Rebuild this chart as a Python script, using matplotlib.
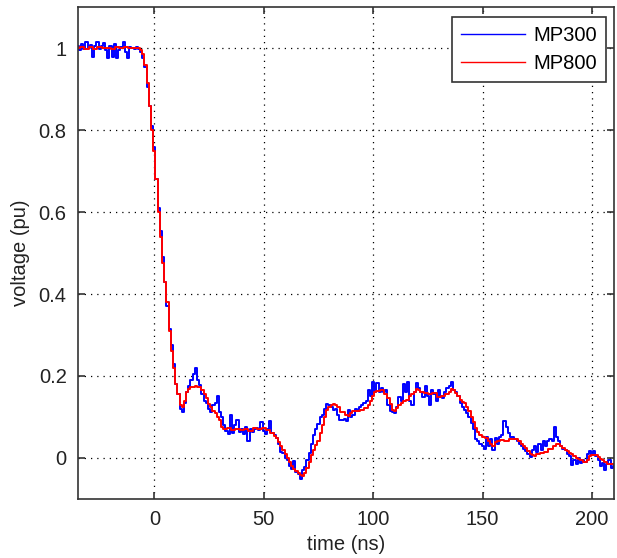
import matplotlib
matplotlib.use('Agg')
import matplotlib.pyplot as plt

# MP300 probe (1 ns samples)
t_mp300 = list(range(-35, 211))
v_mp300 = [
    1.005, 0.995, 1.010, 0.998, 1.015, 1.000, 1.008, 0.978, 1.005, 1.015,   # -35..-26
    0.998, 1.006, 1.012, 0.995, 0.975, 1.005, 0.978, 1.010, 0.976, 0.995,   # -25..-16
    1.004, 1.016, 0.990, 0.976, 1.003, 1.000, 0.998, 1.002, 0.997, 0.990,   # -15..-6
    0.975, 0.955, 0.905, 0.860, 0.810, 0.760, 0.680, 0.610, 0.555, 0.490,   # -5..4
    0.430, 0.370, 0.315, 0.275, 0.230, 0.180, 0.155, 0.120, 0.112, 0.135,   # 5..14
    0.160, 0.175, 0.190, 0.205, 0.220, 0.190, 0.178, 0.155, 0.140, 0.135,   # 15..24
    0.120, 0.112, 0.128, 0.135, 0.150, 0.112, 0.100, 0.080, 0.065, 0.058,   # 25..34
    0.105, 0.060, 0.080, 0.092, 0.062, 0.070, 0.058, 0.075, 0.042, 0.070,   # 35..44
    0.062, 0.070, 0.072, 0.068, 0.088, 0.065, 0.058, 0.070, 0.090, 0.060,   # 45..54
    0.055, 0.048, 0.035, 0.015, 0.012, 0.000, -0.005, -0.020, -0.028, -0.008,  # 55..64
    -0.035, -0.040, -0.052, -0.030, -0.022, -0.005, 0.012, 0.035, 0.055, 0.070,  # 65..74
    0.082, 0.100, 0.105, 0.120, 0.132, 0.128, 0.125, 0.118, 0.120, 0.105,   # 75..84
    0.092, 0.092, 0.095, 0.090, 0.118, 0.100, 0.105, 0.120, 0.115, 0.125,   # 85..94
    0.130, 0.135, 0.140, 0.165, 0.150, 0.185, 0.160, 0.182, 0.160, 0.170,   # 95..104
    0.160, 0.165, 0.130, 0.115, 0.112, 0.110, 0.125, 0.148, 0.140, 0.180,   # 105..114
    0.160, 0.185, 0.140, 0.128, 0.160, 0.184, 0.170, 0.160, 0.148, 0.175,   # 115..124
    0.150, 0.128, 0.165, 0.155, 0.140, 0.165, 0.150, 0.145, 0.160, 0.170,   # 125..134
    0.175, 0.185, 0.165, 0.160, 0.150, 0.135, 0.123, 0.118, 0.110, 0.100,   # 135..144
    0.085, 0.070, 0.045, 0.040, 0.035, 0.030, 0.022, 0.050, 0.030, 0.045,   # 145..154
    0.020, 0.048, 0.035, 0.050, 0.055, 0.090, 0.075, 0.060, 0.050, 0.052,   # 155..164
    0.045, 0.040, 0.035, 0.030, 0.022, 0.018, 0.010, 0.002, 0.020, 0.030,   # 165..174
    0.015, 0.035, 0.020, 0.040, 0.030, 0.042, 0.045, 0.040, 0.075, 0.050,   # 175..184
    0.040, 0.030, 0.022, 0.020, 0.010, 0.005, -0.018, -0.005, -0.015, 0.000,  # 185..194
    -0.012, -0.005, -0.010, 0.010, 0.018, 0.008, 0.018, 0.005, -0.005, -0.020,  # 195..204
    -0.012, -0.030, -0.015, -0.005, -0.025, -0.020,                          # 205..210
]

# MP800 probe
t_mp800 = [
    -35, -33, -31, -29, -27, -25, -23, -21, -19, -17, -15, -13, -11, -9, -7,
    -6, -5, -4, -3, -2, -1, 0, 1, 2, 3, 4, 5, 6, 7, 8, 9, 10, 11, 12, 13, 14,
    15, 16, 17, 18, 19, 20, 21, 22, 23, 24, 25, 26, 27, 28, 29, 30, 31, 32,
    34, 36, 38, 40, 42, 44, 46, 48, 50, 52, 54, 55, 56, 57, 58, 59, 60, 61,
    62, 63, 64, 65, 66, 67, 68, 69, 70, 71, 72, 73, 74, 75, 76, 77, 78, 79,
    80, 81, 82, 83, 84, 86, 88, 89, 90, 91, 93, 95, 97, 98, 99, 100, 101, 102,
    104, 106, 107, 108, 109, 110, 111, 112, 113, 114, 116, 117, 118, 119, 120,
    121, 122, 124, 126, 128, 130, 132, 134, 135, 136, 137, 138, 139, 140, 141,
    142, 143, 144, 145, 146, 147, 148, 149, 150, 152, 153, 154, 155, 156, 157,
    159, 161, 163, 165, 167, 168, 169, 170, 171, 172, 173, 174, 175, 177, 179,
    181, 183, 184, 185, 186, 187, 188, 189, 190, 191, 192, 193, 194, 195, 197,
    198, 199, 200, 202, 203, 204, 205, 206, 208, 210,
]
v_mp800 = [
    1.000, 1.003, 0.998, 1.002, 0.999, 1.003, 1.000, 1.001, 0.998, 1.002, 1.000, 1.003, 1.000, 1.000, 1.000,
    0.995, 0.985, 0.960, 0.915, 0.860, 0.800, 0.750, 0.680, 0.600, 0.540, 0.475, 0.430, 0.380, 0.310, 0.260, 0.220, 0.180, 0.155, 0.130, 0.123, 0.140,
    0.160, 0.168, 0.172, 0.172, 0.175, 0.174, 0.172, 0.165, 0.156, 0.145, 0.132, 0.125, 0.115, 0.110, 0.100, 0.092, 0.075, 0.070,
    0.072, 0.068, 0.070, 0.068, 0.070, 0.066, 0.074, 0.070, 0.072, 0.068, 0.060, 0.054, 0.048, 0.038, 0.030, 0.020, 0.010, 0.000,
    -0.010, -0.020, -0.026, -0.032, -0.038, -0.042, -0.043, -0.036, -0.025, -0.010, 0.008, 0.020, 0.032, 0.042, 0.060, 0.080, 0.100, 0.118,
    0.125, 0.130, 0.132, 0.128, 0.124, 0.112, 0.104, 0.103, 0.110, 0.115, 0.114, 0.118, 0.122, 0.128, 0.138, 0.152, 0.162, 0.164,
    0.165, 0.157, 0.145, 0.132, 0.118, 0.115, 0.122, 0.128, 0.135, 0.140, 0.142, 0.150, 0.156, 0.162, 0.168,
    0.165, 0.160, 0.158, 0.156, 0.158, 0.148, 0.150, 0.155, 0.160, 0.168, 0.165, 0.158, 0.150, 0.142, 0.136,
    0.133, 0.125, 0.115, 0.100, 0.088, 0.074, 0.062, 0.056, 0.052, 0.048, 0.042, 0.035, 0.030, 0.038, 0.042,
    0.044, 0.042, 0.046, 0.045, 0.040, 0.035, 0.030, 0.024, 0.018, 0.010, 0.006, 0.005, 0.010, 0.012, 0.014,
    0.022, 0.030, 0.035, 0.034, 0.030, 0.025, 0.020, 0.018, 0.012, 0.010, 0.005, 0.000, -0.002, -0.005, -0.010,
    -0.004, 0.005, 0.006, 0.006, 0.002, -0.002, -0.006, -0.010, -0.014, -0.014,
]

xticks = [0, 50, 100, 150, 200]
yticks = [0, 0.2, 0.4, 0.6, 0.8, 1]
ytick_labels = ['0', '0.2', '0.4', '0.6', '0.8', '1']

plt.rcParams['font.family'] = ['Liberation Sans', 'DejaVu Sans']
plt.rcParams['font.size'] = 14.5

fig = plt.figure(figsize=(6.17, 5.58), dpi=100)
ax = fig.add_axes([0.126, 0.106, 0.869, 0.881])

# scope traces are sampled, so draw them as steps
ax.plot(t_mp300, v_mp300, color='#0000ff', lw=1.4, drawstyle='steps-mid', label='MP300')
ax.plot(t_mp800, v_mp800, color='#ff0000', lw=1.4, drawstyle='steps-mid', label='MP800')

ax.set_xlim(-35, 210)
ax.set_ylim(-0.1, 1.1)
ax.set_xticks(xticks)
ax.set_yticks(yticks)
ax.set_yticklabels(ytick_labels)
ax.grid(True, linestyle=(0, (1, 4)), color='black', lw=0.9)

# matlab-style box with inward ticks on every side
for sp in ax.spines.values():
    sp.set_color('#333333')
    sp.set_linewidth(1.2)
ax.tick_params(direction='in', length=5, width=1.2, top=True, right=True,
               colors='#333333', labelcolor='#222222', pad=8)

ax.set_xlabel('time (ns)', color='#222222', labelpad=4)
ax.set_ylabel('voltage (pu)', color='#222222', labelpad=6)

leg = ax.legend(loc='upper right', bbox_to_anchor=(0.985, 0.98), fancybox=False,
                framealpha=1, edgecolor='#333333', handlelength=3.2, handletextpad=0.4,
                borderaxespad=0, labelspacing=0.45, borderpad=0.45)
leg.get_frame().set_linewidth(1.2)
for line in leg.get_lines():
    line.set_linewidth(1.0)
    line.set_drawstyle('default')

fig.savefig('out.png', dpi=100)
